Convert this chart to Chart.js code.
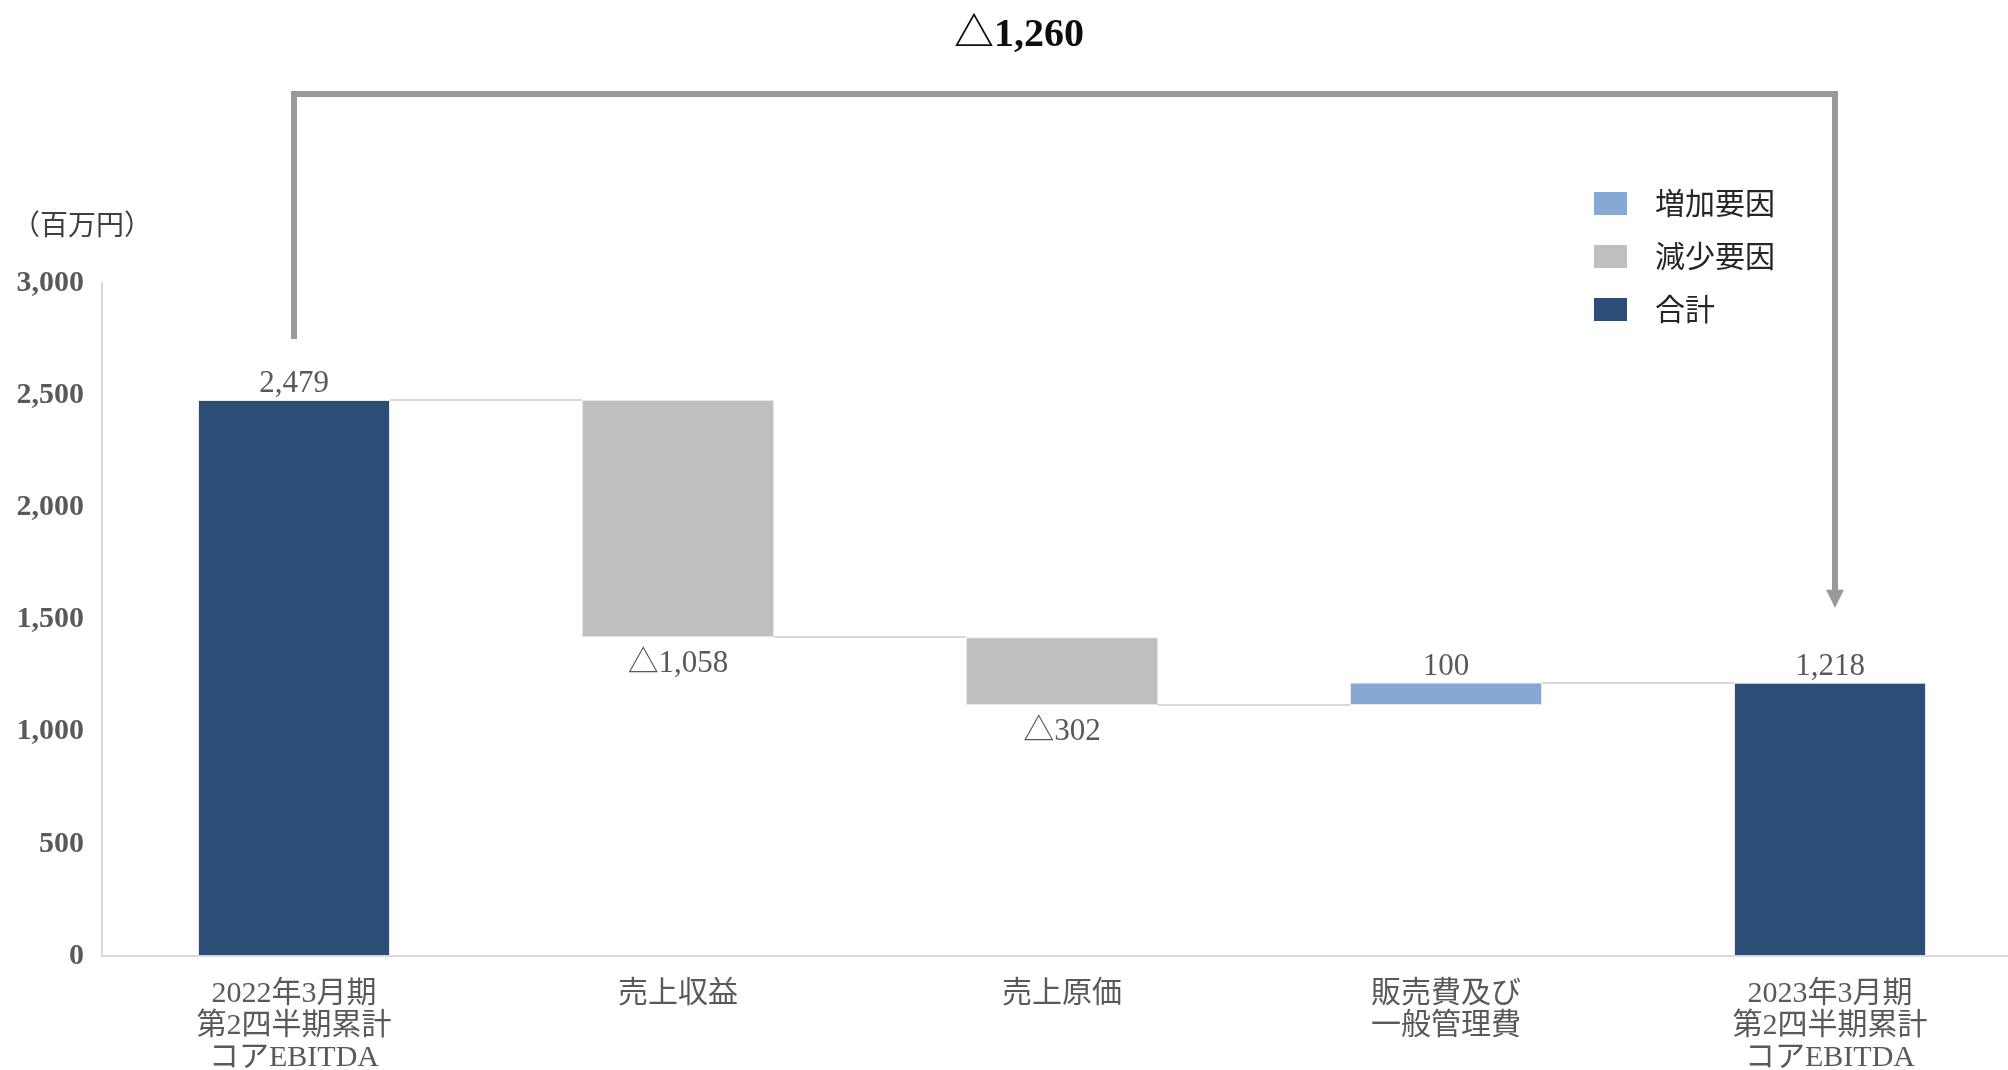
<!DOCTYPE html>
<html>
<head>
<meta charset="utf-8">
<script src="https://cdn.jsdelivr.net/npm/chart.js@4.4.0/dist/chart.umd.min.js"></script>
<style>
    html, body { margin: 0; padding: 0; background: #fff; overflow: hidden; }
    #wrap { position: absolute; left: 0; top: 0; width: 2030px; height: 1070px; }
</style>
</head>
<body>
<div id="wrap"><canvas id="waterfallChart" width="2030" height="1070"></canvas></div>
<script>
// categories (multi-line labels as arrays)
const categories = [
    ['2022年3月期', '第2四半期累計', 'コアEBITDA'],
    '売上収益',
    '売上原価',
    ['販売費及び', '一般管理費'],
    ['2023年3月期', '第2四半期累計', 'コアEBITDA']
];
// totals are absolute values, the others are changes
const changes = [2479, -1058, -302, 100, 1218];
const kinds = ['total', 'decrease', 'decrease', 'increase', 'total'];

const legendKinds = ['increase', 'decrease', 'total'];
const legendNames = ['増加要因', '減少要因', '合計'];

const yTicks = [0, 500, 1000, 1500, 2000, 2500, 3000];
const totalChangeLabel = '△1,260';
const unitLabel = '（百万円）';

const COLORS = {
    increase: '#86A8D4',
    decrease: '#BFBFBF',
    total: '#2C4D75'
};
const SERIF = "'Liberation Serif', 'Noto Sans CJK JP', serif";
const SANS = "'Noto Sans CJK JP', sans-serif";
const TEXT_GRAY = '#595959';

const fmt = v => v.toLocaleString('en-US');

// floating ranges + running level after each bar
let running = 0;
const levels = [];
const ranges = changes.map((v, i) => {
    if (kinds[i] === 'total') {
        running = v;
        levels.push(running);
        return [0, v];
    }
    const from = running;
    running += v;
    levels.push(running);
    return [Math.min(from, running), Math.max(from, running)];
});

const waterfallExtras = {
    id: 'waterfallExtras',
    afterDatasetsDraw(chart) {
        const ctx = chart.ctx;
        const meta = chart.getDatasetMeta(0);
        const yScale = chart.scales.y;
        ctx.save();

        // connectors between bars
        ctx.strokeStyle = '#D9D9D9';
        ctx.lineWidth = 2;
        for (let i = 0; i < meta.data.length - 1; i++) {
            const a = meta.data[i];
            const b = meta.data[i + 1];
            const ly = Math.round(yScale.getPixelForValue(levels[i]));
            ctx.beginPath();
            ctx.moveTo(a.x + a.width / 2, ly);
            ctx.lineTo(b.x - b.width / 2, ly);
            ctx.stroke();
        }

        // value labels
        ctx.font = '31px ' + SERIF;
        ctx.fillStyle = TEXT_GRAY;
        ctx.textAlign = 'center';
        ctx.textBaseline = 'middle';
        meta.data.forEach((bar, i) => {
            const top = Math.min(bar.y, bar.base);
            const bottom = Math.max(bar.y, bar.base);
            if (kinds[i] === 'decrease') {
                ctx.fillText('△' + fmt(-changes[i]), bar.x, bottom + 27);
            } else {
                ctx.fillText(fmt(changes[i]), bar.x, top - 16);
            }
        });

        // bracket with arrow from first total to last total
        const first = meta.data[0];
        const last = meta.data[meta.data.length - 1];
        const x1 = first.x;
        const x2 = last.x + 5;
        const by = 94;
        ctx.strokeStyle = '#999999';
        ctx.fillStyle = '#999999';
        ctx.lineWidth = 6;
        ctx.lineJoin = 'miter';
        ctx.beginPath();
        ctx.moveTo(x1, Math.min(first.y, first.base) - 61);
        ctx.lineTo(x1, by);
        ctx.lineTo(x2, by);
        ctx.lineTo(x2, Math.min(last.y, last.base) - 92);
        ctx.stroke();
        const tip = Math.min(last.y, last.base) - 75;
        ctx.beginPath();
        ctx.moveTo(x2 - 9, tip - 18);
        ctx.lineTo(x2 + 9, tip - 18);
        ctx.lineTo(x2, tip);
        ctx.closePath();
        ctx.fill();

        // total change label
        ctx.font = 'bold 40px ' + SERIF;
        ctx.fillStyle = '#0D0D0D';
        ctx.textAlign = 'center';
        ctx.textBaseline = 'middle';
        ctx.fillText(totalChangeLabel, 1019, 36);

        // unit
        ctx.font = '28px ' + SANS;
        ctx.fillStyle = '#404040';
        ctx.textAlign = 'left';
        ctx.fillText(unitLabel, 12, 224);

        // legend
        ctx.font = '30px ' + SANS;
        legendKinds.forEach((k, i) => {
            const cy = 203 + i * 53;
            ctx.fillStyle = COLORS[k];
            ctx.fillRect(1594, cy - 11, 33, 23);
            ctx.fillStyle = '#262626';
            ctx.textAlign = 'left';
            ctx.fillText(legendNames[i], 1655, cy);
        });

        ctx.restore();
    }
};

const ctx = document.getElementById('waterfallChart').getContext('2d');
new Chart(ctx, {
    type: 'bar',
    data: {
        labels: categories,
        datasets: [{
            label: 'EBITDA',
            data: ranges,
            backgroundColor: kinds.map(k => COLORS[k]),
            borderColor: 'rgba(217, 217, 217, 0.6)',
            borderWidth: 1,
            borderSkipped: false,
            categoryPercentage: 0.5,
            barPercentage: 1.0
        }]
    },
    options: {
        responsive: false,
        animation: false,
        devicePixelRatio: 1,
        layout: {
            padding: { top: 283, right: 8, left: 0, bottom: 0 }
        },
        plugins: {
            legend: { display: false },
            title: { display: false },
            tooltip: { enabled: false }
        },
        scales: {
            x: {
                grid: { display: false, drawTicks: false },
                border: { display: true, color: '#D9D9D9', width: 2 },
                afterFit: scale => { scale.height = 114; },
                ticks: {
                    color: TEXT_GRAY,
                    padding: 22,
                    maxRotation: 0,
                    autoSkip: false,
                    font: { family: SERIF, size: 30, lineHeight: 1.07 }
                }
            },
            y: {
                min: 0,
                max: 3000,
                grid: { display: false, drawTicks: false },
                border: { display: true, color: '#D9D9D9', width: 2 },
                afterFit: scale => { scale.width = 102; },
                afterBuildTicks: scale => {
                    scale.ticks = yTicks.map(v => ({ value: v }));
                },
                ticks: {
                    color: TEXT_GRAY,
                    padding: 18,
                    font: { family: SERIF, size: 30, weight: 'bold' },
                    callback: value => fmt(value)
                }
            }
        }
    },
    plugins: [waterfallExtras]
});
</script>
</body>
</html>
